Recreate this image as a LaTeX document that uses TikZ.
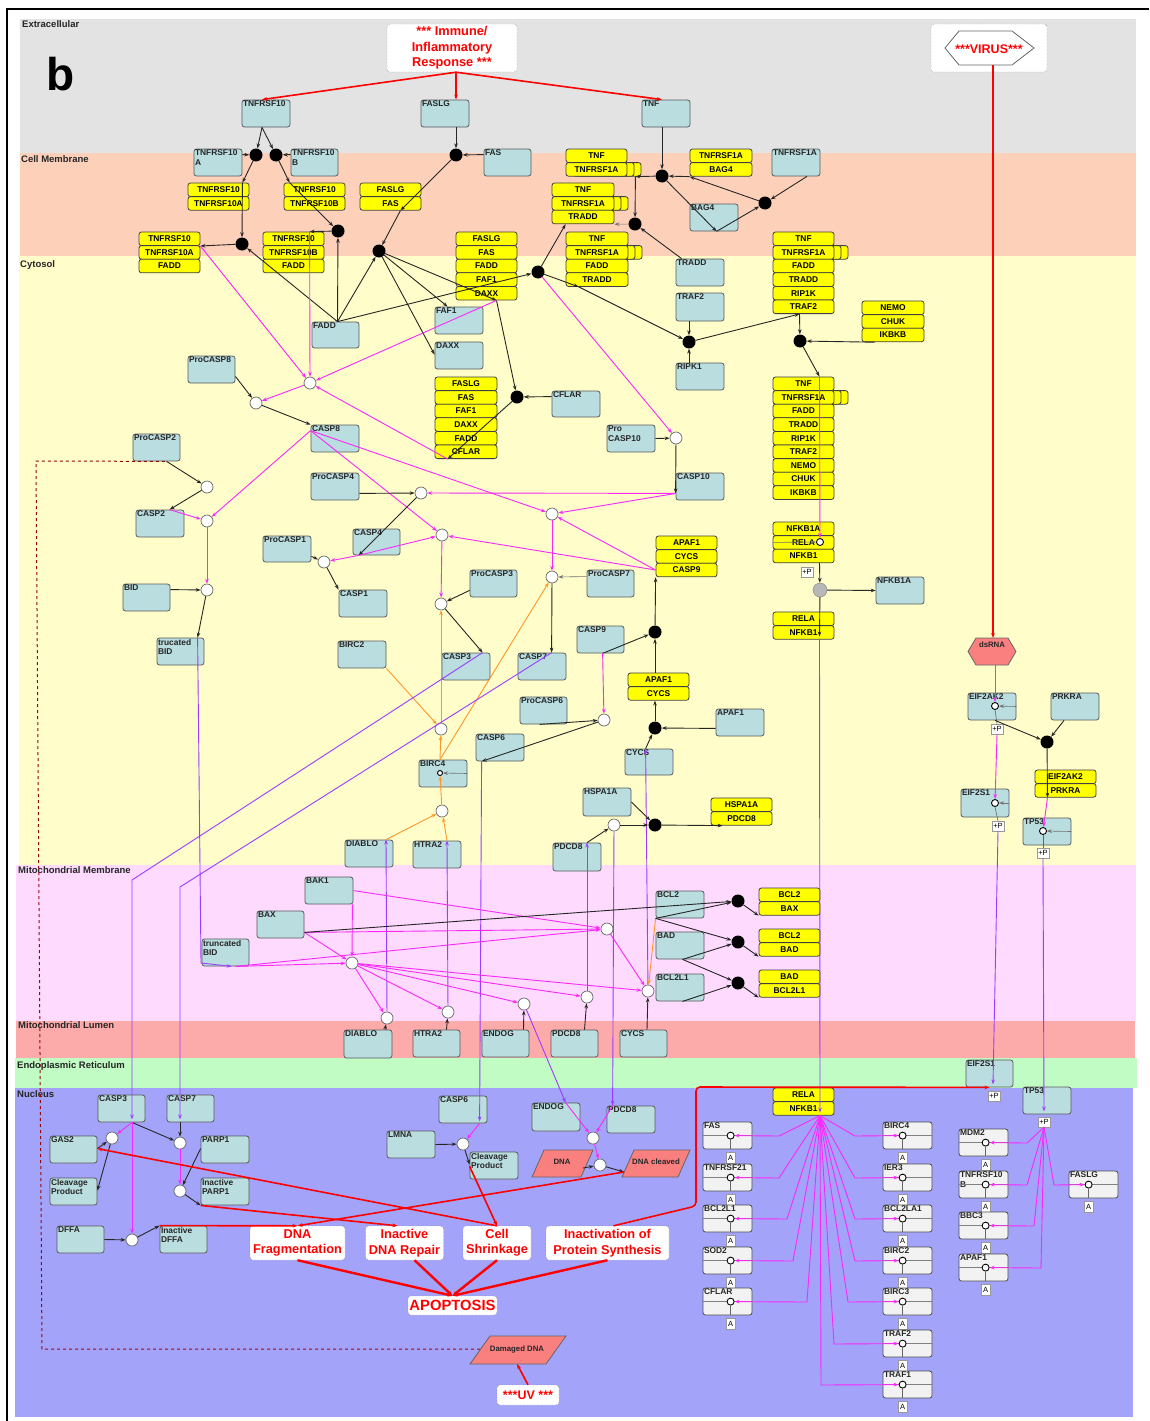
\documentclass[tikz,border=0pt]{standalone}
\usepackage{fontspec}
\setmainfont{Liberation Sans}
\usetikzlibrary{arrows.meta,calc}
\definecolor{bgext}{RGB}{227,227,227}
\definecolor{bgmem}{RGB}{253,208,186}
\definecolor{bgcyt}{RGB}{255,253,201}
\definecolor{bgmm}{RGB}{254,218,254}
\definecolor{bgml}{RGB}{253,170,170}
\definecolor{bger}{RGB}{193,252,196}
\definecolor{bgnuc}{RGB}{163,163,250}
\definecolor{prot}{RGB}{186,222,224}
\definecolor{cpxy}{RGB}{255,255,0}
\definecolor{mag}{RGB}{250,40,250}
\definecolor{pur}{RGB}{155,60,255}
\definecolor{org}{RGB}{255,150,40}
\definecolor{pinkfill}{RGB}{250,128,128}
\definecolor{genefill}{RGB}{242,242,242}
\definecolor{dred}{RGB}{150,10,10}

% protein box: name, x1, y1, x2, y2, label
\newcommand\pbox[6]{%
  \node[pbx, minimum width={#4-#2}, minimum height={#5-#3}] (#1) at ({(#2+#4)/2},{(#3+#5)/2}) {};
  \node[lbl] (#1-l) at (#1.north west) {#6};}
% complex: name, x1, y1, x2, list of rows
\newcommand\cpx[5]{%
  \foreach \t [count=\i] in {#5} {%
    \node[yrow, minimum width={#4-#2}] (#1-\i) at ({(#2+#4)/2},{#3+(\i-0.5)*13.6}) {\t};}}
% multimer shadows behind a complex row: x1, x2, y centre, name
\newcommand\multi[4]{%
  \foreach \o in {14,7} {%
    \node[yrow, minimum width={#2-#1}] (#4\o) at ({(#1+#2)/2+\o},{#3}) {};}}
% gene box: name, x1, y1, label, offset of the state circle
\newcommand\gene[5]{%
  \node[gbx] (#1) at ({#2+24.5},{#3+13.5}) {};
  \node[lbl] (#1-l) at (#1.north west) {#4};
  \draw[line width=0.5pt, black!50] ($(#1.north west)+(0,14)$) -- ($(#1.north east)+(0,14)$);
  \node[modc] (#1-m) at ($(#1.north west)+(#5,14)$) {};
  \draw[line width=0.6pt, black!60] (#1-m.south) -- ($(#1.south west)+(#5,0)$);
  \node[abx] (#1-a) at ($(#1.south west)+(#5,8.5)$) {A};}

\begin{document}
\begin{tikzpicture}[x=1pt,y=-1pt,
  >={Stealth[length=5pt,width=3.6pt]},
  pbx/.style={draw=black!65, fill=prot, rounded corners=2.5pt, inner sep=0pt, line width=0.8pt},
  lbl/.style={anchor=north west, inner sep=1.2pt, font=\bfseries\fontsize{8.4}{9.6}\selectfont, align=left, text=black!85},
  yrow/.style={draw=black!75, fill=cpxy, rounded corners=2.5pt, minimum height=13.6pt, inner sep=0pt, line width=0.8pt, font=\bfseries\fontsize{8.4}{8.4}\selectfont},
  bdot/.style={circle, fill=black, minimum size=13pt, inner sep=0pt},
  pc/.style={circle, draw=black!60, fill=white, minimum size=12pt, inner sep=0pt, line width=0.7pt},
  modc/.style={circle, draw=black, fill=white, minimum size=7pt, inner sep=0pt, line width=0.9pt},
  gbx/.style={draw=black!70, fill=genefill, rounded corners=2.5pt, minimum width=49pt, minimum height=27pt, inner sep=0pt, line width=0.8pt},
  abx/.style={draw=black!40, fill=white, inner sep=0.5pt, minimum width=9pt, minimum height=11pt, font=\fontsize{7.5}{7.5}\selectfont},
  ppx/.style={draw=black!40, fill=white, inner sep=0.5pt, minimum width=12pt, minimum height=10pt, font=\fontsize{7.5}{7.5}\selectfont},
  evbox/.style={draw=black!60, densely dotted, fill=white, rounded corners=3pt, text=red, align=center, inner sep=0pt, font=\bfseries\fontsize{12.8}{15.4}\selectfont},
  cmp/.style={anchor=north west, inner sep=0pt, font=\bfseries\fontsize{9.5}{9.5}\selectfont, text=black!85},
  smlbl/.style={font=\bfseries\fontsize{7.8}{8}\selectfont, text=black!85, inner sep=0pt},
  conn/.style={line width=0.9pt, ->},
  bk/.style={conn, draw=black!85},
  gy/.style={line width=0.6pt, draw=black!55, ->},
  mg/.style={conn, draw=mag},
  pu/.style={conn, draw=pur},
  og/.style={conn, draw=org},
  rd/.style={line width=1.6pt, draw=red, ->},
  rdt/.style={line width=2.4pt, draw=red, ->},
  dsh/.style={line width=1pt, draw=dred, dashed}]

\useasboundingbox (0,0) rectangle (1149,1421);
\fill[white] (0,0) rectangle (1149,1421);

% ---------- compartments ----------
\fill[bgext] (20,19) rectangle (1136,153);
\fill[bgmem] (20,153) rectangle (1136,256);
\fill[bgcyt] (19,256) rectangle (1136,865);
\fill[bgmm] (16,865) rectangle (1136,1021);
\fill[bgml] (16,1021) rectangle (1135,1058);
\fill[bger] (15,1058) rectangle (1137,1088);
\fill[bgnuc] (15,1088) rectangle (1133,1417);
\draw[line width=2.4pt] (7,1421) -- (7,9) -- (1149,9);

\node[cmp] (lab1) at (22,20) {Extracellular};
\node[cmp] (lab2) at (21,155) {Cell Membrane};
\node[cmp] (lab3) at (20,260) {Cytosol};
\node[cmp] (lab4) at (18,866) {Mitochondrial Membrane};
\node[cmp] (lab5) at (18,1021) {Mitochondrial Lumen};
\node[cmp] (lab6) at (17,1061) {Endoplasmic Reticulum};
\node[cmp] (lab7) at (17,1090) {Nucleus};
\node[anchor=base, inner sep=0pt, font=\bfseries\fontsize{46}{46}\selectfont] (panel) at (61,90) {b};

% ---------- inputs ----------
\node[evbox, minimum width=130pt, minimum height=48pt] (imm) at (452,48) {*** Immune/\\Inflammatory\\Response ***};
\node[evbox, minimum width=116pt, minimum height=48pt] (virusbox) at (989,48) {};
\draw[draw=black!60, line width=0.8pt, fill=white] (945,48) -- (959,31) -- (1012,31) -- (1034,48) -- (1012,65) -- (959,65) -- cycle;
\node[text=red, inner sep=0pt, font=\bfseries\fontsize{12.5}{12.5}\selectfont] (virus) at (989,49) {***VIRUS***};
\coordinate (virusout) at (993,65);

\draw[draw=black!60, line width=0.8pt, fill=pinkfill] (968,651.5) -- (976,638) -- (1008,638) -- (1016,651.5) -- (1008,665) -- (976,665) -- cycle;
\node[smlbl] (dsrna) at (992,645) {dsRNA};
\coordinate (dsrnain) at (993,638);
\coordinate (dsrnaout) at (995,665);

% ---------- protein boxes ----------
\pbox{tnfsf10}{242}{100}{290}{127}{TNFRSF10}
\pbox{faslg}{421}{100}{469}{127}{FASLG}
\pbox{tnf}{642}{100}{690}{127}{TNF}
\pbox{r10a}{194}{149}{242}{176}{TNFRSF10\\A}
\pbox{r10b}{291}{149}{338}{176}{TNFRSF10\\B}
\pbox{fas}{484}{149}{531}{176}{FAS}
\pbox{r1a}{772}{149}{820}{176}{TNFRSF1A}
\pbox{bag4}{690}{204}{738}{231}{BAG4}
\pbox{tradd}{676}{259}{724}{286}{TRADD}
\pbox{traf2}{676}{293}{724}{321}{TRAF2}
\pbox{fadd}{312}{322}{359}{348}{FADD}
\pbox{faf1}{435}{307}{483}{334}{FAF1}
\pbox{daxx}{435}{342}{483}{369}{DAXX}
\pbox{ripk1}{676}{363}{724}{390}{RIPK1}
\pbox{cflar}{552}{391}{600}{417}{CFLAR}
\pbox{procasp8}{188}{356}{235}{383}{ProCASP8}
\pbox{casp8}{311}{425}{359}{452}{CASP8}
\pbox{procasp10}{607}{425}{655}{452}{Pro\\CASP10}
\pbox{procasp2}{133}{434}{180}{461}{ProCASP2}
\pbox{procasp4}{311}{473}{359}{500}{ProCASP4}
\pbox{casp10}{676}{473}{724}{500}{CASP10}
\pbox{casp2}{136}{510}{184}{537}{CASP2}
\pbox{casp4}{353}{529}{400}{555}{CASP4}
\pbox{procasp1}{263}{536}{311}{562}{ProCASP1}
\pbox{procasp3}{470}{570}{517}{597}{ProCASP3}
\pbox{procasp7}{587}{570}{634}{597}{ProCASP7}
\pbox{nfkb1a}{876}{577}{924}{604}{NFKB1A}
\pbox{bid}{123}{584}{170}{611}{BID}
\pbox{casp1}{339}{590}{387}{617}{CASP1}
\pbox{casp9}{577}{626}{624}{653}{CASP9}
\pbox{tbid}{157}{638}{204}{665}{trucated\\BID}
\pbox{birc2}{338}{641}{386}{668}{BIRC2}
\pbox{casp3}{442}{653}{490}{680}{CASP3}
\pbox{casp7}{518}{653}{566}{680}{CASP7}
\pbox{eif2ak2}{968}{693}{1016}{720}{EIF2AK2}
\pbox{prkra}{1051}{693}{1099}{720}{PRKRA}
\pbox{procasp6}{520}{697}{567}{724}{ProCASP6}
\pbox{apaf1}{716}{709}{764}{736}{APAF1}
\pbox{casp6}{476}{734}{524}{761}{CASP6}
\pbox{cycs}{625}{749}{673}{775}{CYCS}
\pbox{birc4}{419}{760}{467}{787}{BIRC4}
\pbox{hspa1a}{583}{788}{631}{816}{HSPA1A}
\pbox{eif2s1}{961}{789}{1009}{817}{EIF2S1}
\pbox{tp53}{1023}{818}{1071}{845}{TP53}
\pbox{diablo}{345}{840}{393}{867}{DIABLO}
\pbox{htra2}{413}{841}{461}{868}{HTRA2}
\pbox{pdcd8}{553}{843}{601}{871}{PDCD8}
\pbox{bak1}{305}{877}{353}{904}{BAK1}
\pbox{bcl2}{656}{891}{704}{918}{BCL2}
\pbox{bax}{257}{911}{304}{938}{BAX}
\pbox{bad}{656}{932}{704}{959}{BAD}
\pbox{tbidm}{202}{939}{249}{966}{truncated\\BID}
\pbox{bcl2l1}{656}{974}{704}{1001}{BCL2L1}
\pbox{diablol}{344}{1030}{392}{1058}{DIABLO}
\pbox{htra2l}{413}{1030}{460}{1057}{HTRA2}
\pbox{endogl}{482}{1030}{529}{1057}{ENDOG}
\pbox{pdcd8l}{551}{1030}{598}{1057}{PDCD8}
\pbox{cycsl}{620}{1030}{667}{1057}{CYCS}
\pbox{eif2s1er}{966}{1060}{1013}{1087}{EIF2S1}
\pbox{casp3n}{98}{1095}{145}{1122}{CASP3}
\pbox{casp7n}{167}{1095}{214}{1122}{CASP7}
\pbox{casp6n}{439}{1096}{487}{1123}{CASP6}
\pbox{endogn}{532}{1103}{580}{1131}{ENDOG}
\pbox{pdcd8n}{607}{1106}{655}{1133}{PDCD8}
\pbox{tp53n}{1023}{1087}{1071}{1114}{TP53}
\pbox{gas2}{50}{1136}{97}{1163}{GAS2}
\pbox{parp1}{201}{1136}{249}{1163}{PARP1}
\pbox{lmna}{387}{1131}{435}{1158}{LMNA}
\pbox{cleav1}{50}{1178}{97}{1205}{Cleavage\\Product}
\pbox{iparp1}{201}{1178}{249}{1205}{Inactive\\PARP1}
\pbox{cleav2}{470}{1152}{518}{1179}{Cleavage\\Product}
\pbox{dffa}{57}{1226}{104}{1253}{DFFA}
\pbox{idffa}{160}{1226}{207}{1253}{Inactive\\DFFA}

% ---------- complexes ----------
\cpx{y10a}{188}{183}{249}{TNFRSF10,TNFRSF10A}
\cpx{y10b}{284}{183}{345}{TNFRSF10,TNFRSF10B}
\cpx{yfas}{360}{183}{421}{FASLG,FAS}
\multi{566}{627}{169.4}{ytnf1m}
\cpx{ytnf1}{566}{149}{627}{TNF,TNFRSF1A}
\cpx{ybag}{690}{149}{752}{TNFRSF1A,BAG4}
\multi{552}{614}{203.4}{ytraddm}
\cpx{ytradd}{552}{183}{614}{TNF,TNFRSF1A,TRADD}
\cpx{y10af}{139}{232}{200}{TNFRSF10,TNFRSF10A,FADD}
\cpx{y10bf}{263}{232}{324}{TNFRSF10,TNFRSF10B,FADD}
\cpx{ydisc}{456}{232}{517}{FASLG,FAS,FADD,FAF1,DAXX}
\multi{566}{628}{252.4}{ytnf2m}
\cpx{ytnf2}{566}{232}{628}{TNF,TNFRSF1A,FADD,TRADD}
\multi{773}{834}{252.4}{ytnf3m}
\cpx{ytnf3}{773}{232}{834}{TNF,TNFRSF1A,FADD,TRADD,RIP1K,TRAF2}
\cpx{yikk}{862}{301}{924}{NEMO,CHUK,IKBKB}
\cpx{ycflar}{435}{377}{497}{FASLG,FAS,FAF1,DAXX,FADD,CFLAR}
\multi{773}{834}{397.4}{ytnf4m}
\cpx{ytnf4}{773}{377}{834}{TNF,TNFRSF1A,FADD,TRADD,RIP1K,TRAF2,NEMO,CHUK,IKBKB}
\cpx{yapo}{656}{536}{717}{APAF1,CYCS,CASP9}
\cpx{ynfkb}{773}{522}{834}{NFKB1A,RELA,NFKB1}
\cpx{yrela}{773}{612}{834}{RELA,NFKB1}
\cpx{yapaf}{628}{673}{689}{APAF1,CYCS}
\cpx{yhsp}{711}{798}{772}{HSPA1A,PDCD8}
\cpx{ybax}{759}{888}{820}{BCL2,BAX}
\cpx{ybad}{759}{929}{820}{BCL2,BAD}
\cpx{ybadl}{759}{970}{820}{BAD,BCL2L1}
\cpx{yeif}{1035}{770}{1096}{EIF2AK2,PRKRA}
\cpx{yrelan}{773}{1088}{834}{RELA,NFKB1}

% ---------- target genes ----------
\gene{gFAS}{703}{1122}{FAS}{28}
\gene{gTNFRSF21}{703}{1164}{TNFRSF21}{28}
\gene{gBCL2L1}{703}{1205}{BCL2L1}{28}
\gene{gSOD2}{703}{1247}{SOD2}{28}
\gene{gCFLAR}{703}{1288}{CFLAR}{28}
\gene{gBIRC4}{883}{1122}{BIRC4}{20}
\gene{gIER3}{883}{1164}{IER3}{20}
\gene{gBCL2LA1}{883}{1205}{BCL2LA1}{20}
\gene{gBIRC2}{883}{1247}{BIRC2}{20}
\gene{gBIRC3}{883}{1288}{BIRC3}{20}
\gene{gTRAF2}{883}{1330}{TRAF2}{20}
\gene{gTRAF1}{883}{1371}{TRAF1}{20}
\gene{gMDM2}{959}{1129}{MDM2}{27}
\gene{gTNFRSF10B}{959}{1171}{TNFRSF10\\B}{27}
\gene{gBBC3}{959}{1212}{BBC3}{27}
\gene{gAPAF1}{959}{1254}{APAF1}{27}
\gene{gFASLG}{1069}{1171}{FASLG}{20}

% ---------- outcome boxes ----------
\node[evbox, minimum width=95pt, minimum height=34pt] (dnafrag) at (297.5,1243) {DNA\\Fragmentation};
\node[evbox, minimum width=78pt, minimum height=34pt] (inrep) at (404.5,1243) {Inactive\\DNA Repair};
\node[evbox, minimum width=68pt, minimum height=34pt] (shrink) at (497,1243) {Cell\\Shrinkage};
\node[evbox, minimum width=123pt, minimum height=34pt] (inps) at (607.5,1243) {Inactivation of\\Protein Synthesis};
\node[evbox, minimum width=89pt, minimum height=19pt, font=\bfseries\fontsize{14.8}{15}\selectfont] (apop) at (452.5,1305.5) {APOPTOSIS};
\node[evbox, minimum width=62pt, minimum height=20pt, font=\bfseries\fontsize{12.5}{12.5}\selectfont] (uv) at (528,1395) {***UV ***};

\draw[draw=black!60, line width=0.8pt, fill=pinkfill] (532,1177) -- (544,1150) -- (593,1150) -- (581,1177) -- cycle;
\node[smlbl] (dna) at (562,1162) {DNA};
\draw[draw=black!60, line width=0.8pt, fill=pinkfill] (622,1177) -- (634,1150) -- (690,1150) -- (678,1177) -- cycle;
\node[smlbl] (dnacl) at (656,1162) {DNA cleaved};
\draw[draw=black!60, line width=0.8pt, fill=pinkfill] (470,1364) -- (490,1336) -- (566,1336) -- (546,1364) -- cycle;
\node[smlbl] (dmg) at (517,1349) {Damaged DNA};
\coordinate (dnaout) at (583,1168);
\coordinate (dnaclin) at (624,1172);
\coordinate (dmgin) at (517,1364);
\coordinate (dmgout) at (480,1349);

% ---------- complex-formation dots ----------
\foreach \n/\x/\y in {d1/256/155, d2/276/155, d3/242/244, d4/338/231, d5/456/155, d6/379/251, d7/538/272,
  d8/517/397, d9/689/342, d10/662/176, d11/765/203, d12/635/224, d13/800/341, d14/1047/742,
  d15/655/632, d16/655/728, d17/655/825, d18/738/901, d19/738/942, d20/738/983}
  \node[bdot] (\n) at (\x,\y) {};
% ---------- transition circles ----------
\foreach \n/\x/\y in {c1/256/403, c2/310/383, c3/676/438, c4/421/493, c5/552/514, c6/207/521, c7/324/562,
  c8/442/535, c9/552/577, c10/441/604, c11/604/720, c12/648/991, c13/607/929, c14/614/825, c15/587/997,
  c16/352/963, c17/524/1004, c18/448/1012, c19/442/811, c20/387/1018, c21/441/729, c22/207/487,
  c23/207/590, c24/112/1138, c25/180/1143, c26/132/1240, c27/180/1191, c28/463/1144, c29/593/1138, c30/600/1165}
  \node[pc] (\n) at (\x,\y) {};
\node[circle, draw=black!50, fill=black!28, minimum size=14pt, inner sep=0pt] (gc) at (820,590) {};
\node[modc] (nfm) at (820,542) {};
\node[modc] (eifm) at (995,706) {};
\node[modc] (es1m) at (995,803) {};
\node[modc] (tpm) at (1043,831) {};
\node[modc, minimum size=5pt] (b4m) at (440,773) {};
\node[ppx] (pp1) at (807,572) {+P};
\node[ppx] (pp2) at (997,729) {+P};
\node[ppx] (pp3) at (998,826) {+P};
\node[ppx] (pp4) at (1043,853) {+P};
\node[ppx] (pp5) at (994,1096) {+P};
\node[ppx] (pp6) at (1044,1122) {+P};

% ================= connectors =================
% external signals
\coordinate (immout) at ($(imm.south)+(4,0)$);
\draw[rd] (immout) -- ($(tnfsf10.north)+(-4,0)$);
\draw[rd] (immout) -- ($(faslg.north)+(11,0)$);
\draw[rd] (immout) -- ($(tnf.north)+(-4,0)$);
\draw[rd] (virusout) -- (dsrnain);

% TRAIL receptors
\draw[bk] ($(tnfsf10.south)+(-4,0)$) -- (d1);
\draw[bk] ($(tnfsf10.south)+(-4,0)$) -- (d2);
\draw[bk] ($(r10a.north east)+(0,6)$) -- (d1);
\draw[bk] ($(r10b.north west)+(0,6)$) -- (d2);
\draw[bk] (d1) -- ($(y10a-1.north east)+(-7,0)$);
\draw[bk] (d2) -- ($(y10b-1.north west)+(6,0)$);
\draw[bk] ($(y10a-1.north east)+(-7,0)$) -- (d3);
\draw[bk] ($(y10b-1.north west)+(6,0)$) -- (d4);
\draw[bk] (d3) -- (y10af-1.south east);
\draw[bk] (d4) -- ($(y10bf-1.north west)+(47,0)$);
\draw[bk] ($(fadd.north)+(2,0)$) -- (d3);
\draw[bk] ($(fadd.north)+(2,0)$) -- (d4);
\draw[bk] ($(fadd.north)+(2,0)$) -- (d6);
\draw[bk] ($(fadd.north)+(2,0)$) -- (d7);
\draw[mg] (y10af-1.south east) -- (c2);
\draw[mg] ($(y10bf-1.north west)+(47,0)$) -- (c2);

% FAS
\draw[bk] ($(faslg.south)+(11,0)$) -- (d5);
\draw[bk] ($(fas.north west)+(0,6)$) -- (d5);
\draw[bk] (d5) -- ($(yfas-2.south east)+(-21,0)$);
\draw[bk] ($(yfas-2.south east)+(-21,0)$) -- (d6);
\draw[bk] (d6) -- ($(faf1.north west)+(13,0)$);
\draw[bk] (d6) -- ($(daxx.north west)+(0,13)$);
\draw[bk] (d6) -- ($(ydisc-5.south)+(10,0)$);
\draw[bk] ($(ydisc-5.south)+(10,0)$) -- (d8);
\draw[mg] ($(ydisc-5.south)+(10,0)$) -- (c2);
\draw[bk] ($(cflar.north west)+(0,6)$) -- (d8);
\draw[bk] (d8) -- ($(ycflar-6.south west)+(13,0)$);
\draw[mg] ($(ycflar-6.south west)+(13,0)$) -- (c2);

% TNF
\draw[bk] ($(tnf.south)+(-4,0)$) -- (d10);
\draw[bk] (d10) -- ($(ytnf1-2.south east)+(8,0)$);
\draw[bk] (ybag-2.south west) -- (d10);
\draw[bk] (d10) -- ($(bag4.south west)+(27,0)$);
\draw[bk] ($(bag4.south west)+(27,0)$) -- (d11);
\draw[bk] ($(r1a.south)+(11,0)$) -- (d11);
\draw[bk] (d11) -- (ybag-2.south west);
\draw[bk] ($(ytnf1-2.south east)+(8,0)$) -- (d12);
\draw[bk] ($(tradd.north west)+(6,0)$) -- (d12);
\draw[gy] (d12) -- (ytradd-3.south east);
\draw[bk] (d7) -- ($(ytradd-3.south west)+(14,0)$);
\draw[bk] (d7) -- ($(ytnf2-4.south west)+(13,0)$);
\draw[bk] ($(ytnf2-4.south west)+(13,0)$) -- (d9);
\draw[mg] (d7) -- (c3);
\draw[bk] ($(traf2.south)+(-11,0)$) -- (d9);
\draw[bk] ($(ripk1.north)+(-11,0)$) -- (d9);
\draw[bk] (d9) -- ($(ytnf3-6.south)+(-4,0)$);
\draw[bk] ($(ytnf3-6.south)+(-4,0)$) -- (d13);
\draw[bk] ($(yikk-3.south west)+(13,0)$) -- (d13);
\draw[bk] (d13) -- ($(ytnf4-1.north)+(16,0)$);
\draw[mg] ($(ytnf4-1.north)+(16,0)$) -- (nfm);
\draw[gy] (ynfkb-2.west) -- (nfm);
\draw[bk] ($(ynfkb-3.south)+(16,0)$) -- (gc);
\draw[bk] (gc) -- (nfkb1a.west);
\draw[bk] (gc) -- ($(yrela-2.south)+(16,-3)$);
\coordinate (nfout) at ($(yrelan-2.south)+(16.5,0)$);
\draw[pu] ($(yrela-2.south)+(16,0)$) -- ($(nfout)+(0,-3)$);

% caspase-8
\draw[bk] ($(procasp8.south east)+(0,-7)$) -- (c1);
\draw[mg] (c2) -- (c1);
\draw[bk] (c1) -- (casp8.north west);
\coordinate (c8a) at ($(casp8.north west)+(0,6)$);
\draw[mg] (c8a) -- (c6);
\draw[mg] (c8a) -- (c5);
\draw[mg] (c8a) -- (c8);

% caspase-10, -4, -1
\draw[bk] (procasp10.east) -- (c3);
\coordinate (c10a) at ($(casp10.south west)+(0,-7)$);
\draw[bk] (c3) -- (c10a);
\draw[mg] (c10a) -- (c4);
\draw[mg] (c10a) -- (c5);
\draw[bk] ($(procasp4.south east)+(0,-7)$) -- (c4);
\coordinate (c4a) at ($(casp4.south west)+(6,0)$);
\draw[bk] (c4) -- (c4a);
\draw[mg] (c4a) -- (c7);
\draw[mg] (c4a) -- (c8);
\draw[bk] ($(procasp1.south east)+(0,-6)$) -- (c7);
\draw[bk] (c7) -- (casp1.north west);

% apoptosome, caspase-3/-7/-9/-6
\coordinate (apoa) at (yapo-3.west);
\draw[mg] (apoa) -- (c5);
\draw[mg] (apoa) -- (c8);
\draw[mg] (c5) -- (c9);
\draw[gy] ($(procasp7.north west)+(0,7)$) -- (c9);
\coordinate (c7a) at ($(casp7.north west)+(34,0)$);
\draw[bk] (c9) -- (c7a);
\draw[bk] ($(procasp3.south west)+(0,-7)$) -- (c10);
\draw[mg] (c8) -- (c10);
\coordinate (c3a) at ($(casp3.north west)+(41,0)$);
\draw[bk] (c10) -- (c3a);
\coordinate (c9a) at ($(casp9.south west)+(26,0)$);
\draw[bk] (c9a) -- (d15);
\draw[bk] ($(yapaf-1.north)+(-3.5,0)$) -- (d15);
\draw[bk] (d15) -- (yapo-3.south west);
\draw[mg] (c9a) -- (c11);
\draw[bk] ($(procasp6.south west)+(20,0)$) -- (c11);
\coordinate (c6a) at ($(casp6.south west)+(6,0)$);
\draw[bk] (c11) -- (c6a);
\draw[pu] (c6a) -- ($(casp6n.south west)+(41,-2)$);
\draw[bk] ($(apaf1.south west)+(0,-8)$) -- (d16);
\coordinate (cya) at ($(cycs.north west)+(21,0)$);
\draw[bk] (cya) -- (d16);
\draw[bk] (d16) -- ($(yapaf-2.south)+(-3.5,0)$);
\draw[pu] (c12) -- (cya);
\draw[bk] ($(cycsl.north)+(3.5,0)$) -- (c12);
\draw[mg] (c13) -- (c12);
\draw[og] (bcl2.south west) -- (c12);

% HSPA1A / PDCD8
\draw[bk] (hspa1a.east) -- (d17);
\draw[bk] (c14) -- (d17);
\draw[bk] (d17) -- ($(yhsp-2.south west)+(12,0)$);
\coordinate (pd8a) at ($(pdcd8.north)+(10,0)$);
\draw[bk] (pd8a) -- (c14);
\draw[pu] (c15) -- (pd8a);
\draw[pu] (c14) -- ($(pdcd8n.north west)+(6,0)$);
\draw[bk] ($(pdcd8l.north)+(10,0)$) -- (c15);

% mitochondrial release
\draw[bk] ($(endogl.north)+(18,0)$) -- (c17);
\draw[pu] (c17) -- ($(endogn.north west)+(34,0)$);
\draw[bk] ($(htra2l.north)+(10,0)$) -- (c18);
\coordinate (ht2a) at ($(htra2.north)+(10,0)$);
\draw[pu] (c18) -- (ht2a);
\draw[og] (ht2a) -- (c19);
\coordinate (dba) at ($(diablo.north)+(17,0)$);
\draw[bk] ($(diablol.north)+(17,0)$) -- (c20);
\draw[pu] (c20) -- (dba);
\draw[og] (dba) -- (c19);
\draw[og] (c19) -- (b4m);
\foreach \t in {c20,c18,c17,c15,c12} \draw[mg] (c16) -- (\t);

% IAPs
\coordinate (b4a) at ($(birc4.north)+(-3,0)$);
\draw[gy] (birc4.east) -- (b4m);
\draw[og] (birc2.south east) -- (c21);
\draw[og] (b4a) -- (c21);
\draw[og] (c21) -- (c10);
\draw[og] (b4a) -- (c9);

% transport to nucleus / mitochondria
\draw[pu] (c3a) -- (132,880) -- ($(casp3n.south)+(10.5,-3)$);
\draw[pu] (c7a) -- (180,887) -- ($(casp7n.south)+(-10.5,-3)$);
\coordinate (tba) at ($(tbid.north west)+(41,0)$);
\draw[pu] (tba) -- (201,963) -- ($(tbidm.south west)+(30,0)$);

% BID / caspase-2
\coordinate (pc2a) at ($(procasp2.south west)+(34,0)$);
\draw[bk] (pc2a) -- (c22);
\coordinate (cs2a) at ($(casp2.north west)+(34,0)$);
\draw[bk] (c22) -- (cs2a);
\draw[mg] (cs2a) -- (c6);
\draw[mg] (c6) -- (c23);
\draw[bk] ($(bid.north east)+(0,6)$) -- (c23);
\draw[bk] (c23) -- (tba);
\draw[dsh] (dmgout) -- (42,1349) -- (36,461) -- (pc2a);

% BCL2 family
\coordinate (tbma) at ($(tbidm.south west)+(34,0)$);
\draw[mg] (tbma) -- (c16);
\draw[mg] (tbma) -- (c13);
\draw[mg] ($(bak1.north east)+(0,14)$) -- (c13);
\draw[mg] ($(bak1.south east)+(-1,0)$) -- (c16);
\coordinate (bxa) at ($(bax.south east)+(0,-6)$);
\draw[mg] (bxa) -- (c16);
\draw[mg] (bxa) -- (c13);
\draw[bk] (bxa) -- (d18);
\draw[bk] (bcl2.south west) -- (d18);
\draw[bk] (bcl2.south west) -- (d19);
\coordinate (bda) at ($(bad.south west)+(27,0)$);
\draw[bk] (bda) -- (d19);
\draw[bk] (bda) -- (d20);
\draw[bk] ($(bcl2l1.south west)+(27,0)$) -- (d20);
\draw[bk] (d18) -- (ybax-2.south west);
\draw[bk] (d19) -- (ybad-2.south west);
\draw[bk] (d20) -- (ybadl-2.south west);

% viral response
\draw[mg] (dsrnaout) -- (eifm);
\draw[gy] (eif2ak2.east) -- (eifm);
\draw[line width=0.6pt, black!60] (eifm.south) -- (pp2.north);
\draw[bk] ($(eif2ak2.south)+(3,0)$) -- (d14);
\draw[bk] ($(prkra.south)+(-11,0)$) -- (d14);
\draw[bk] (d14) -- ($(yeif-2.south)+(-18,0)$);
\draw[mg] (pp2.south) -- (es1m);
\draw[gy] (eif2s1.east) -- (es1m);
\draw[line width=0.6pt, black!60] (es1m.south) -- (pp3.north);
\draw[mg] ($(yeif-2.south)+(-18,0)$) -- (tpm);
\draw[gy] (tp53.east) -- (tpm);
\draw[line width=0.6pt, black!60] (tpm.south) -- (pp4.north);
\draw[pu] (pp3.south) -- ($(eif2s1er.south)+(3.5,-3)$);
\draw[pu] (pp4.south) -- ($(tp53n.south)+(-3,-3)$);

% nuclear events
\coordinate (c3na) at ($(casp3n.south)+(10.5,0)$);
\draw[mg] (c3na) -- (c24);
\draw[bk] (c3na) -- (c25);
\draw[mg] (c3na) -- (c26);
\coordinate (g2a) at ($(gas2.north east)+(0,13)$);
\draw[bk] (g2a) -- (c24);
\draw[bk] (c24) -- ($(cleav1.north east)+(0,13)$);
\draw[bk] ($(casp7n.south)+(-10.5,0)$) -- (c25);
\draw[mg] (c25) -- (c27);
\draw[bk] ($(parp1.north west)+(0,13)$) -- (c27);
\draw[bk] (c27) -- (iparp1.south west);
\draw[bk] (dffa.east) -- (c26);
\draw[bk] (c26) -- (idffa.north west);
\draw[mg] ($(casp6n.south west)+(41,0)$) -- (c28);
\draw[bk] (lmna.east) -- (c28);
\draw[bk] (c28) -- ($(cleav2.north west)+(0,13)$);
\draw[mg] ($(endogn.north west)+(34,0)$) -- (c29);
\draw[mg] ($(pdcd8n.north west)+(6,0)$) -- (c29);
\draw[mg] (c29) -- (c30);
\draw[bk] (dnaout) -- (c30);
\draw[bk] (c30) -- (dnaclin);

% outcomes
\draw[rd] (idffa.north west) -- (dnafrag.north);
\draw[rd] (shrink.north) -- (g2a);
\draw[rd] (iparp1.south west) -- ($(inrep.north)+(-7,0)$);
\draw[rd] (dnaclin) -- (dnafrag.north);
\draw[rd] ($(cleav2.south west)+(0,-13)$) -- (shrink.north);
\draw[rdt] (dnafrag.south) -- (apop.north);
\draw[rdt] ($(inrep.south)+(10,0)$) -- (apop.north);
\draw[rdt] (shrink.south) -- (apop.north);
\draw[rdt] (inps.south) -- (apop.north);
\draw[rd] (uv.north) -- (dmgin);
\draw[rd, rounded corners=4pt] ($(inps.north)+(6,0)$) -- (696,1206) -- (696,1087) -- (eif2s1er.south);

% transcription by NF-kB
\foreach \g/\ex/\ey in {gFAS/779/1136, gTNFRSF21/779/1178, gBCL2L1/787/1219, gSOD2/793/1261, gCFLAR/807/1302}
  \draw[mg] (nfout) -- (\ex,\ey) -- (\g-m.east);
\foreach \g/\ex/\ey in {gBIRC4/855/1136, gIER3/855/1178, gBCL2LA1/855/1219, gBIRC2/855/1261, gBIRC3/848/1302, gTRAF2/834/1344, gTRAF1/821/1385}
  \draw[mg] (nfout) -- (\ex,\ey) -- (\g-m.west);
% transcription by TP53
\foreach \g/\ex/\ey in {gMDM2/1027/1143, gTNFRSF10B/1027/1185, gBBC3/1034/1226, gAPAF1/1041/1268}
  \draw[mg] (pp6.south) -- (\ex,\ey) -- (\g-m.east);
\draw[mg] (pp6.south) -- (1054,1185) -- (gFASLG-m.west);

\end{tikzpicture}
\end{document}
